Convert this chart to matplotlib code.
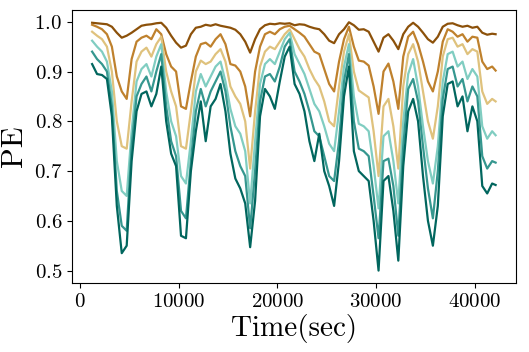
import matplotlib
matplotlib.use('Agg')
import matplotlib.pyplot as plt
import numpy as np

plt.rcParams['font.family'] = 'serif'
plt.rcParams['font.serif'] = ['cmr10']
plt.rcParams['mathtext.fontset'] = 'cm'
plt.rcParams['axes.formatter.use_mathtext'] = True

# time axis (sec)
time = np.array([1250 + 500 * i for i in range(82)] + [42100])

pe_1 = [0.998, 0.997, 0.996, 0.995, 0.99, 0.978, 0.968, 0.972, 0.978, 0.985,
        0.992, 0.994, 0.995, 0.997, 0.998, 0.988, 0.972, 0.958, 0.948, 0.952,
        0.975, 0.988, 0.99, 0.994, 0.992, 0.995, 0.992, 0.99, 0.988, 0.984,
        0.975, 0.96, 0.938, 0.965, 0.985, 0.993, 0.996, 0.995, 0.997, 0.996,
        0.997, 0.993, 0.995, 0.994, 0.99, 0.987, 0.985, 0.975, 0.962, 0.957,
        0.975, 0.985, 0.999, 0.993, 0.984, 0.985, 0.98, 0.96, 0.94, 0.968,
        0.975, 0.962, 0.945, 0.975, 0.99, 0.998, 0.99, 0.978, 0.965, 0.958,
        0.97, 0.99, 0.996, 0.997, 0.993, 0.99, 0.992, 0.988, 0.99, 0.978,
        0.974, 0.976, 0.975]
pe_2 = [0.994, 0.99, 0.985, 0.975, 0.95, 0.89, 0.86, 0.845, 0.925, 0.96,
        0.968, 0.972, 0.965, 0.985, 0.975, 0.935, 0.91, 0.9, 0.83, 0.825,
        0.88, 0.93, 0.955, 0.958, 0.95, 0.965, 0.975, 0.955, 0.915, 0.912,
        0.9, 0.87, 0.81, 0.9, 0.95, 0.975, 0.98, 0.975, 0.985, 0.99,
        0.992, 0.985, 0.978, 0.97, 0.955, 0.94, 0.935, 0.905, 0.875, 0.86,
        0.92, 0.965, 0.99, 0.95, 0.922, 0.92, 0.912, 0.87, 0.815, 0.9,
        0.916, 0.88, 0.825, 0.93, 0.97, 0.98, 0.955, 0.92, 0.88, 0.86,
        0.9, 0.96, 0.985, 0.98, 0.97, 0.975, 0.96, 0.97, 0.968, 0.92,
        0.905, 0.91, 0.902]
pe_3 = [0.98, 0.972, 0.965, 0.95, 0.9, 0.8, 0.75, 0.745, 0.84, 0.92,
        0.94, 0.948, 0.93, 0.955, 0.97, 0.9, 0.86, 0.83, 0.75, 0.745,
        0.82, 0.9, 0.922, 0.915, 0.92, 0.935, 0.945, 0.92, 0.87, 0.85,
        0.835, 0.8, 0.705, 0.82, 0.91, 0.94, 0.95, 0.945, 0.96, 0.975,
        0.985, 0.965, 0.945, 0.93, 0.905, 0.885, 0.87, 0.84, 0.8, 0.79,
        0.87, 0.94, 0.975, 0.9, 0.862, 0.855, 0.848, 0.78, 0.69, 0.83,
        0.845, 0.79, 0.705, 0.87, 0.935, 0.955, 0.92, 0.86, 0.8, 0.765,
        0.83, 0.93, 0.965, 0.968, 0.95, 0.955, 0.935, 0.945, 0.94, 0.86,
        0.835, 0.845, 0.84]
pe_4 = [0.962, 0.95, 0.94, 0.92, 0.86, 0.72, 0.66, 0.65, 0.78, 0.88,
        0.905, 0.915, 0.89, 0.93, 0.955, 0.86, 0.8, 0.77, 0.69, 0.675,
        0.76, 0.86, 0.895, 0.87, 0.89, 0.91, 0.92, 0.88, 0.825, 0.79,
        0.775, 0.74, 0.635, 0.76, 0.875, 0.915, 0.925, 0.915, 0.94, 0.965,
        0.978, 0.935, 0.915, 0.895, 0.865, 0.835, 0.82, 0.79, 0.755, 0.74,
        0.82, 0.91, 0.955, 0.85, 0.795, 0.79, 0.78, 0.71, 0.625, 0.77,
        0.78, 0.72, 0.635, 0.8, 0.895, 0.925, 0.87, 0.79, 0.72, 0.675,
        0.75, 0.88, 0.935, 0.94, 0.91, 0.92, 0.885, 0.905, 0.89, 0.79,
        0.765, 0.78, 0.772]
pe_5 = [0.94, 0.925, 0.915, 0.9, 0.83, 0.66, 0.59, 0.58, 0.75, 0.85,
        0.875, 0.89, 0.86, 0.9, 0.935, 0.83, 0.76, 0.73, 0.62, 0.605,
        0.72, 0.82, 0.865, 0.83, 0.86, 0.88, 0.9, 0.86, 0.79, 0.74,
        0.71, 0.69, 0.585, 0.7, 0.84, 0.89, 0.895, 0.88, 0.91, 0.95,
        0.965, 0.9, 0.88, 0.855, 0.82, 0.78, 0.77, 0.73, 0.69, 0.68,
        0.76, 0.88, 0.935, 0.8, 0.745, 0.74, 0.73, 0.65, 0.565, 0.72,
        0.725, 0.67, 0.57, 0.75, 0.865, 0.885, 0.84, 0.75, 0.665, 0.605,
        0.7, 0.845, 0.905, 0.91, 0.87, 0.885, 0.84, 0.87, 0.85, 0.73,
        0.705, 0.72, 0.717]
pe_6 = [0.915, 0.895, 0.893, 0.885, 0.81, 0.63, 0.535, 0.55, 0.72, 0.82,
        0.855, 0.86, 0.83, 0.855, 0.91, 0.8, 0.735, 0.71, 0.57, 0.565,
        0.7, 0.78, 0.84, 0.76, 0.83, 0.845, 0.875, 0.82, 0.735, 0.685,
        0.665, 0.635, 0.547, 0.64, 0.81, 0.865, 0.85, 0.825, 0.88, 0.93,
        0.95, 0.875, 0.855, 0.82, 0.76, 0.72, 0.775, 0.7, 0.67, 0.63,
        0.72, 0.85, 0.91, 0.74, 0.7, 0.69, 0.68, 0.6, 0.5, 0.68,
        0.69, 0.62, 0.52, 0.71, 0.82, 0.845, 0.8, 0.69, 0.6, 0.55,
        0.63, 0.81, 0.875, 0.88, 0.83, 0.85, 0.78, 0.83, 0.8, 0.67,
        0.655, 0.675, 0.672]

series = [pe_1, pe_2, pe_3, pe_4, pe_5, pe_6]
colors = ['#8c510a', '#bf812d', '#dfc27d', '#80cdc1', '#35978f', '#01665e']

fig = plt.figure(figsize=(5.29, 3.52), dpi=100)
ax = fig.add_axes([0.136, 0.196, 0.839, 0.776])
for ys, c in zip(series, colors):
    ax.plot(time, ys, color=c, lw=1.6)

ax.set_xlabel('Time(sec)', fontsize=21, labelpad=2)
ax.set_ylabel('PE', fontsize=22)
ax.tick_params(labelsize=15)
ax.set_yticks([0.5, 0.6, 0.7, 0.8, 0.9, 1.0])

fig.savefig('out.png', dpi=100)
